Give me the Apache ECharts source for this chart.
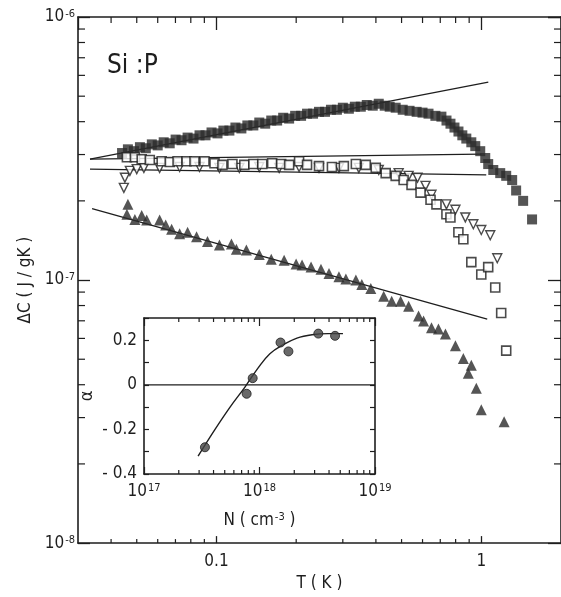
<!DOCTYPE html>
<html>
<head>
<meta charset="utf-8">
<script src="https://cdn.jsdelivr.net/npm/echarts@6/dist/echarts.min.js"></script>
<style>
    html, body { margin: 0; padding: 0; background: #fff; }
    #chart { width: 561px; height: 597px; }
</style>
</head>
<body>
<div id="chart"></div>
<script>
// Si:P  specific heat  dC(T), log-log, with inset alpha(N)

// filled squares
var sqFillT = [0.0440, 0.0463, 0.0488, 0.0514, 0.0541, 0.0570, 0.0600, 0.0632, 0.0666, 0.0701,
    0.0738, 0.0778, 0.0819, 0.0863, 0.0909, 0.0958, 0.1009, 0.1062, 0.1119, 0.1179,
    0.1242, 0.1308, 0.1378, 0.1451, 0.1528, 0.1610, 0.1695, 0.1786, 0.1881, 0.1982,
    0.2087, 0.2198, 0.2316, 0.2439, 0.2569, 0.2706, 0.2850, 0.3001, 0.3162, 0.3331,
    0.3508, 0.3695, 0.3892, 0.4101, 0.4318, 0.4509,
    0.475, 0.505, 0.536, 0.570, 0.600, 0.632, 0.671, 0.707, 0.739, 0.765,
    0.792, 0.820, 0.848, 0.878, 0.917, 0.949, 0.991, 1.035, 1.062, 1.110,
    1.179, 1.242, 1.308, 1.354, 1.439, 1.555];
var sqFillC = [3.04e-7, 3.14e-7, 3.09e-7, 3.20e-7, 3.17e-7, 3.28e-7, 3.25e-7, 3.34e-7, 3.31e-7, 3.42e-7,
    3.40e-7, 3.48e-7, 3.45e-7, 3.55e-7, 3.55e-7, 3.64e-7, 3.61e-7, 3.70e-7, 3.70e-7, 3.80e-7,
    3.77e-7, 3.87e-7, 3.87e-7, 3.97e-7, 3.93e-7, 4.04e-7, 4.04e-7, 4.14e-7, 4.11e-7, 4.21e-7,
    4.21e-7, 4.29e-7, 4.29e-7, 4.36e-7, 4.36e-7, 4.44e-7, 4.44e-7, 4.52e-7, 4.48e-7, 4.56e-7,
    4.56e-7, 4.63e-7, 4.60e-7, 4.68e-7, 4.60e-7, 4.56e-7,
    4.52e-7, 4.44e-7, 4.40e-7, 4.36e-7, 4.33e-7, 4.29e-7, 4.21e-7, 4.18e-7, 4.04e-7, 3.93e-7,
    3.80e-7, 3.67e-7, 3.55e-7, 3.45e-7, 3.34e-7, 3.23e-7, 3.09e-7, 2.91e-7, 2.76e-7, 2.62e-7,
    2.55e-7, 2.49e-7, 2.40e-7, 2.19e-7, 2.00e-7, 1.70e-7];

// open squares
var sqOpenT = [0.0459, 0.0492, 0.0522, 0.0560, 0.0621, 0.0666, 0.0713, 0.0771, 0.0826, 0.0901,
    0.0983, 0.1053, 0.1149, 0.1274, 0.1378, 0.1489, 0.1623, 0.1755, 0.1881, 0.2051,
    0.2198, 0.2439, 0.2729, 0.3027, 0.3360, 0.3663, 0.3995, 0.4355, 0.4750, 0.5090,
    0.5453, 0.5897, 0.6432, 0.6773, 0.7386, 0.7647, 0.8195, 0.8556, 0.917, 1.000,
    1.062, 1.129, 1.189, 1.242];
var sqOpenC = [2.93e-7, 2.93e-7, 2.88e-7, 2.86e-7, 2.83e-7, 2.81e-7, 2.83e-7, 2.83e-7, 2.83e-7, 2.83e-7,
    2.78e-7, 2.74e-7, 2.76e-7, 2.74e-7, 2.76e-7, 2.76e-7, 2.78e-7, 2.76e-7, 2.74e-7, 2.83e-7,
    2.74e-7, 2.71e-7, 2.69e-7, 2.71e-7, 2.76e-7, 2.74e-7, 2.67e-7, 2.55e-7, 2.49e-7, 2.40e-7,
    2.30e-7, 2.15e-7, 2.02e-7, 1.94e-7, 1.78e-7, 1.73e-7, 1.52e-7, 1.43e-7, 1.17e-7, 1.05e-7,
    1.12e-7, 9.37e-8, 7.49e-8, 5.39e-8];

// open down triangles
var triOpenT = [0.0447, 0.0451, 0.0471, 0.0500, 0.0532, 0.0610, 0.0726, 0.0863, 0.1026, 0.1220,
    0.1451, 0.1725, 0.2051, 0.2439, 0.2901, 0.3448, 0.4101, 0.4875, 0.5316, 0.5744,
    0.6158, 0.6486, 0.7386, 0.7986, 0.8705, 0.9331, 1.000, 1.081, 1.149];
var triOpenC = [2.24e-7, 2.45e-7, 2.60e-7, 2.64e-7, 2.67e-7, 2.67e-7, 2.69e-7, 2.69e-7, 2.67e-7, 2.67e-7,
    2.69e-7, 2.67e-7, 2.69e-7, 2.67e-7, 2.67e-7, 2.67e-7, 2.62e-7, 2.55e-7, 2.49e-7, 2.45e-7,
    2.28e-7, 2.11e-7, 1.94e-7, 1.85e-7, 1.73e-7, 1.63e-7, 1.55e-7, 1.48e-7, 1.21e-7];

// filled triangles
var triFillT = [0.0463, 0.0459, 0.0492, 0.0522, 0.0545, 0.0610, 0.0643, 0.0677, 0.0726, 0.0778,
    0.0841, 0.0925, 0.1026, 0.1139, 0.1189, 0.1297, 0.1451, 0.1610, 0.1801, 0.1999,
    0.2105, 0.2276, 0.2481, 0.2660, 0.2901, 0.3081, 0.3360, 0.3539, 0.3826, 0.4281,
    0.4588, 0.4960, 0.5316, 0.5795, 0.6053, 0.6486, 0.6891, 0.7322, 0.7986, 0.8556,
    0.9170, 0.8935, 0.9576, 1.000, 1.220];
var triFillC = [1.94e-7, 1.78e-7, 1.70e-7, 1.76e-7, 1.69e-7, 1.69e-7, 1.62e-7, 1.56e-7, 1.50e-7, 1.52e-7,
    1.46e-7, 1.40e-7, 1.36e-7, 1.37e-7, 1.31e-7, 1.30e-7, 1.25e-7, 1.20e-7, 1.19e-7, 1.15e-7,
    1.14e-7, 1.12e-7, 1.10e-7, 1.06e-7, 1.03e-7, 1.01e-7, 1.00e-7, 9.62e-8, 9.29e-8, 8.67e-8,
    8.30e-8, 8.30e-8, 7.95e-8, 7.30e-8, 6.99e-8, 6.58e-8, 6.52e-8, 6.24e-8, 5.63e-8, 5.03e-8,
    4.74e-8, 4.42e-8, 3.88e-8, 3.21e-8, 2.89e-8];

// power-law fits (end points)
var fitA = [[0.0333, 2.88e-7], [1.063, 5.65e-7]];
var fitB = [[0.0333, 2.88e-7], [1.000, 3.01e-7]];
var fitC = [[0.0333, 2.64e-7], [1.044, 2.51e-7]];
var fitD = [[0.0339, 1.87e-7], [1.053, 7.11e-8]];

// inset: exponent alpha vs N
var alphaN = [3.37e17, 7.74e17, 8.73e17, 1.52e18, 1.78e18, 3.23e18, 4.51e18];
var alphaV = [-0.28, -0.04, 0.03, 0.19, 0.15, 0.23, 0.22];
var curveN = [2.94e17, 4.12e17, 5.56e17, 7.48e17, 9.70e17, 1.23e18, 1.60e18, 2.11e18, 2.85e18, 3.92e18, 5.28e18];
var curveV = [-0.32, -0.20, -0.10, -0.01, 0.075, 0.14, 0.18, 0.21, 0.225, 0.23, 0.23];

// axis ranges and minor ticks
var tMin = 0.03, tMax = 2.0;
var cMin = 1e-8, cMax = 1e-6;
var nMin = 1e17, nMax = 1e19;
var aMin = -0.4, aMax = 0.3;
var minorT = [0.04, 0.05, 0.06, 0.07, 0.08, 0.09, 0.2, 0.3, 0.4, 0.5, 0.6, 0.7, 0.8, 0.9];
var minorC = [2e-8, 3e-8, 4e-8, 5e-8, 6e-8, 7e-8, 8e-8, 9e-8, 2e-7, 3e-7, 4e-7, 5e-7, 6e-7, 7e-7, 8e-7, 9e-7];
var minorN = [2e17, 3e17, 4e17, 5e17, 6e17, 7e17, 8e17, 9e17, 2e18, 3e18, 4e18, 5e18, 6e18, 7e18, 8e18, 9e18];

var ink = '#1e1e1e';
var font = '"Liberation Sans Narrow", "DejaVu Sans Condensed", "Liberation Sans", sans-serif';

function zip(a, b) {
    return a.map(function (v, i) { return [v, b[i]]; });
}

function pow10Label(v) {
    var e = Math.round(Math.log10(v));
    return '{b|10}{s|' + e + '}';
}

var richLab = {
    b: { fontSize: 17, fontFamily: font, color: ink },
    s: { fontSize: 11, fontFamily: font, color: ink, verticalAlign: 'top', padding: [0, 0, 0, 1] }
};

// minor tick marks: [x, y, dx, dy]
var mainTicks = [];
minorT.forEach(function (t) {
    mainTicks.push([t, cMin, 0, -4]);
    mainTicks.push([t, cMax, 0, 6]);
});
minorC.forEach(function (c) {
    mainTicks.push([tMin, c, 7, 0]);
    mainTicks.push([tMax, c, -7, 0]);
});
var insetTicks = [];
minorN.forEach(function (n) {
    insetTicks.push([n, aMin, 0, -4]);
    insetTicks.push([n, aMax, 0, 4]);
});

function tickRender(params, api) {
    var p = api.coord([api.value(0), api.value(1)]);
    return {
        type: 'line',
        shape: { x1: p[0], y1: p[1], x2: p[0] + api.value(2), y2: p[1] + api.value(3) },
        style: { stroke: ink, lineWidth: 1.2 }
    };
}

function axisBase(extra) {
    var a = {
        axisLine: { show: true, onZero: false, lineStyle: { color: ink, width: 1.6 } },
        axisTick: { show: true, inside: true, lineStyle: { color: ink, width: 1.3 } },
        axisLabel: { show: false },
        splitLine: { show: false },
        minorTick: { show: false }
    };
    for (var k in extra) a[k] = extra[k];
    return a;
}

function fitLine(d) {
    return {
        type: 'line', data: d, xAxisIndex: 0, yAxisIndex: 0,
        showSymbol: false, symbol: 'none', silent: true, z: 2,
        lineStyle: { color: ink, width: 1.3 }
    };
}

var myChart = echarts.init(document.getElementById('chart'));

var option = {
    animation: false,
    backgroundColor: '#fff',
    grid: [
        { left: 78, top: 17, width: 485, height: 533 },
        { left: 144, top: 318, width: 231, height: 156 }
    ],
    graphic: [
        {
            type: 'text', left: 107, top: 53,
            style: { text: 'Si :P', font: '26px ' + font, fill: ink }
        }
    ],
    xAxis: [
        axisBase({
            type: 'log', gridIndex: 0, position: 'bottom', min: tMin, max: tMax,
            axisTick: { show: true, inside: true, length: 7, lineStyle: { color: ink, width: 1.3 } },
            axisLabel: {
                show: true, margin: 10, showMinLabel: false, showMaxLabel: false,
                fontSize: 17, fontFamily: font, color: ink,
                formatter: function (v) { return String(+(+v).toPrecision(1)); }
            },
            name: 'T ( K )', nameLocation: 'middle', nameGap: 27,
            nameTextStyle: { fontSize: 17, fontFamily: font, color: ink }
        }),
        axisBase({
            type: 'log', gridIndex: 0, position: 'top', min: tMin, max: tMax,
            axisTick: { show: true, inside: true, length: 13, lineStyle: { color: ink, width: 1.3 } }
        }),
        axisBase({
            type: 'log', gridIndex: 1, position: 'bottom', min: nMin, max: nMax,
            axisTick: { show: true, inside: true, length: 7, lineStyle: { color: ink, width: 1.2 } },
            axisLabel: {
                show: true, margin: 9, formatter: pow10Label, rich: richLab
            },
            name: 'N ( cm{s|-3} )', nameLocation: 'middle', nameGap: 38,
            nameTextStyle: { fontSize: 17, fontFamily: font, color: ink, rich: richLab }
        }),
        axisBase({
            type: 'log', gridIndex: 1, position: 'top', min: nMin, max: nMax,
            axisTick: { show: true, inside: true, length: 8, lineStyle: { color: ink, width: 1.2 } }
        })
    ],
    yAxis: [
        axisBase({
            type: 'log', gridIndex: 0, position: 'left', min: cMin, max: cMax,
            axisTick: { show: true, inside: true, length: 12, lineStyle: { color: ink, width: 1.3 } },
            axisLabel: { show: true, margin: 3, formatter: pow10Label, rich: richLab },
            name: 'ΔC ( J / gK )', nameLocation: 'middle', nameGap: 44,
            nameTextStyle: { fontSize: 17, fontFamily: font, color: ink }
        }),
        axisBase({
            type: 'log', gridIndex: 0, position: 'right', min: cMin, max: cMax,
            axisTick: { show: true, inside: true, length: 13, lineStyle: { color: ink, width: 1.3 } }
        }),
        axisBase({
            type: 'value', gridIndex: 1, position: 'left', min: aMin, max: aMax, interval: 0.1,
            axisTick: { show: true, inside: true, length: 5, lineStyle: { color: ink, width: 1.2 } },
            axisLabel: {
                show: true, margin: 7, fontSize: 17, fontFamily: font, color: ink,
                formatter: function (v) {
                    var k = Math.round(v * 10);
                    if (k % 2 !== 0) return '';
                    if (k === 0) return '0';
                    return (k < 0 ? '- ' : '') + Math.abs(k / 10).toFixed(1);
                }
            },
            name: 'α', nameLocation: 'middle', nameGap: 48,
            nameTextStyle: { fontSize: 18, fontFamily: font, color: ink }
        }),
        axisBase({
            type: 'value', gridIndex: 1, position: 'right', min: aMin, max: aMax, interval: 0.1,
            axisTick: { show: true, inside: true, length: 5, lineStyle: { color: ink, width: 1.2 } }
        })
    ],
    series: [
        { type: 'custom', xAxisIndex: 0, yAxisIndex: 0, data: mainTicks, renderItem: tickRender, clip: false, silent: true, z: 1 },
        { type: 'custom', xAxisIndex: 2, yAxisIndex: 2, data: insetTicks, renderItem: tickRender, clip: false, silent: true, z: 1 },
        fitLine(fitA),
        fitLine(fitB),
        fitLine(fitC),
        fitLine(fitD),
        {
            name: 'filled squares', type: 'scatter', xAxisIndex: 0, yAxisIndex: 0, z: 3,
            data: zip(sqFillT, sqFillC), symbol: 'rect', symbolSize: 10,
            itemStyle: { color: '#2b2b2b' }
        },
        {
            name: 'open squares', type: 'scatter', xAxisIndex: 0, yAxisIndex: 0, z: 4,
            data: zip(sqOpenT, sqOpenC), symbol: 'rect', symbolSize: 9,
            itemStyle: { color: '#fff', borderColor: ink, borderWidth: 1.6 }
        },
        {
            name: 'open triangles', type: 'scatter', xAxisIndex: 0, yAxisIndex: 0, z: 3,
            data: zip(triOpenT, triOpenC), symbol: 'triangle', symbolRotate: 180, symbolSize: 9,
            itemStyle: { color: '#fff', borderColor: ink, borderWidth: 1.4 }
        },
        {
            name: 'filled triangles', type: 'scatter', xAxisIndex: 0, yAxisIndex: 0, z: 3,
            data: zip(triFillT, triFillC), symbol: 'triangle', symbolSize: 11,
            itemStyle: { color: '#2b2b2b' }
        },
        {
            type: 'line', xAxisIndex: 2, yAxisIndex: 2, data: [[nMin, 0], [nMax, 0]],
            showSymbol: false, symbol: 'none', silent: true, z: 2,
            lineStyle: { color: ink, width: 1.4 }
        },
        {
            type: 'line', xAxisIndex: 2, yAxisIndex: 2, data: zip(curveN, curveV), smooth: 0.4,
            showSymbol: false, symbol: 'none', silent: true, z: 2,
            lineStyle: { color: ink, width: 1.4 }
        },
        {
            name: 'alpha', type: 'scatter', xAxisIndex: 2, yAxisIndex: 2, z: 3,
            data: zip(alphaN, alphaV), symbol: 'circle', symbolSize: 9,
            itemStyle: { color: '#444', borderColor: ink, borderWidth: 1 }
        }
    ]
};

myChart.setOption(option);
</script>
</body>
</html>
